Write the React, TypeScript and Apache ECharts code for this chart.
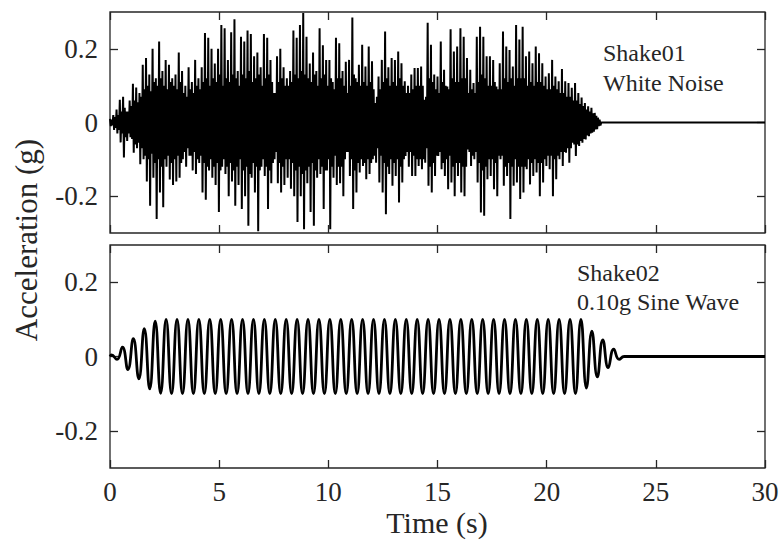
import React, { useEffect, useRef } from "react";
import * as echarts from "echarts";

// ---- tick labels ----
const xTicks = [0, 5, 10, 15, 20, 25, 30];
const yTicks = [-0.2, 0, 0.2];

// ---- Shake01: white noise ----
// For each step of noiseStep seconds: one positive and one negative spike (noisePeaks, pairs),
// followed by the half-height of the dense core band (noiseCore).
const noiseStep = 0.15;
const noisePeaks = [
  0.01, -0.01, 0.02, -0.02, 0.035, -0.03, 0.062, -0.054, 0.07, -0.095,
  0.03, -0.05, 0.06, -0.04, 0.105, -0.082, 0.095, -0.07, 0.08, -0.113,
  0.157, -0.1, 0.175, -0.16, 0.13, -0.226, 0.2, -0.15, 0.12, -0.262,
  0.22, -0.19, 0.14, -0.23, 0.17, -0.12, 0.157, -0.155, 0.12, -0.17,
  0.13, -0.16, 0.19, -0.15, 0.14, -0.1, 0.1, -0.12, 0.15, -0.09,
  0.11, -0.13, 0.17, -0.14, 0.12, -0.11, 0.15, -0.19, 0.243, -0.21,
  0.23, -0.13, 0.2, -0.15, 0.16, -0.17, 0.2, -0.243, 0.265, -0.12,
  0.256, -0.14, 0.17, -0.2, 0.245, -0.16, 0.28, -0.226, 0.14, -0.17,
  0.233, -0.235, 0.22, -0.2, 0.25, -0.28, 0.24, -0.15, 0.18, -0.19,
  0.19, -0.295, 0.15, -0.12, 0.24, -0.145, 0.23, -0.235, 0.17, -0.165,
  0.08, -0.1, 0.18, -0.165, 0.2, -0.19, 0.15, -0.17, 0.12, -0.15,
  0.14, -0.18, 0.25, -0.2, 0.23, -0.27, 0.265, -0.2, 0.297, -0.29,
  0.233, -0.165, 0.16, -0.243, 0.19, -0.28, 0.14, -0.15, 0.256, -0.14,
  0.21, -0.235, 0.17, -0.13, 0.17, -0.29, 0.11, -0.15, 0.23, -0.17,
  0.215, -0.165, 0.14, -0.2, 0.165, -0.08, 0.17, -0.145, 0.285, -0.235,
  0.12, -0.19, 0.157, -0.136, 0.211, -0.118, 0.152, -0.154, 0.206, -0.14,
  0.166, -0.1, 0.053, -0.109, 0.125, -0.163, 0.17, -0.19, 0.247, -0.249,
  0.15, -0.14, 0.175, -0.172, 0.17, -0.145, 0.193, -0.217, 0.161, -0.163,
  0.112, -0.091, 0.1, -0.12, 0.13, -0.145, 0.148, -0.145, 0.148, -0.118,
  0.152, -0.127, 0.062, -0.109, 0.271, -0.172, 0.211, -0.19, 0.13, -0.145,
  0.125, -0.091, 0.22, -0.127, 0.143, -0.145, 0.098, -0.181, 0.253, -0.163,
  0.193, -0.2, 0.206, -0.145, 0.256, -0.19, 0.233, -0.2, 0.175, -0.073,
  0.143, -0.118, 0.107, -0.1, 0.233, -0.163, 0.26, -0.244, 0.233, -0.253,
  0.18, -0.154, 0.18, -0.145, 0.17, -0.181, 0.098, -0.2, 0.161, -0.1,
  0.247, -0.172, 0.206, -0.145, 0.197, -0.262, 0.152, -0.172, 0.265, -0.163,
  0.225, -0.208, 0.26, -0.19, 0.18, -0.127, 0.193, -0.168, 0.161, -0.145,
  0.206, -0.136, 0.188, -0.2, 0.161, -0.163, 0.125, -0.118, 0.134, -0.127,
  0.17, -0.2, 0.125, -0.154, 0.112, -0.1, 0.145, -0.118, 0.112, -0.082,
  0.107, -0.109, 0.094, -0.055, 0.107, -0.091, 0.08, -0.064, 0.068, -0.055,
  0.053, -0.046, 0.044, -0.037, 0.04, -0.028, 0.026, -0.019, 0.013, -0.01,
];
const noiseCore = [
  0.008, 0.015, 0.02, 0.03, 0.04, 0.03, 0.045, 0.06, 0.055, 0.07,
  0.09, 0.1, 0.085, 0.11, 0.1, 0.12, 0.1, 0.09, 0.11, 0.1,
  0.09, 0.11, 0.08, 0.07, 0.09, 0.08, 0.1, 0.09, 0.11, 0.12,
  0.1, 0.12, 0.11, 0.13, 0.1, 0.12, 0.11, 0.13, 0.12, 0.1,
  0.13, 0.12, 0.14, 0.11, 0.12, 0.13, 0.1, 0.12, 0.13, 0.11,
  0.08, 0.11, 0.12, 0.1, 0.1, 0.11, 0.13, 0.12, 0.14, 0.13,
  0.12, 0.11, 0.13, 0.1, 0.12, 0.13, 0.1, 0.12, 0.09, 0.12,
  0.12, 0.1, 0.08, 0.1, 0.13, 0.11, 0.1, 0.11, 0.1, 0.11,
  0.09, 0.07, 0.09, 0.11, 0.12, 0.1, 0.11, 0.1, 0.12, 0.1,
  0.08, 0.08, 0.09, 0.1, 0.1, 0.1, 0.07, 0.12, 0.11, 0.09,
  0.08, 0.11, 0.1, 0.09, 0.12, 0.11, 0.11, 0.12, 0.12, 0.08,
  0.09, 0.08, 0.11, 0.13, 0.12, 0.1, 0.1, 0.11, 0.09, 0.09,
  0.12, 0.11, 0.12, 0.1, 0.12, 0.12, 0.12, 0.1, 0.11, 0.1,
  0.11, 0.11, 0.1, 0.09, 0.09, 0.1, 0.09, 0.08, 0.08, 0.07,
  0.07, 0.06, 0.06, 0.05, 0.045, 0.035, 0.03, 0.025, 0.018, 0.008,
];
const noiseTail = [
  [22.5, 0],
  [30, 0],
];

// ---- Shake02: 0.10 g sine wave, extremes every sineDt seconds from sineT0 ----
const sineHead = [[0, 0]];
const sineT0 = 0.07;
const sineDt = 0.25;
const sineAcc = [
  0.004, -0.008, 0.025, -0.035, 0.048, -0.06, 0.075, -0.087, 0.095, -0.099,
  0.1, -0.1, 0.1, -0.1, 0.1, -0.1, 0.1, -0.1, 0.1, -0.1,
  0.1, -0.1, 0.1, -0.1, 0.1, -0.1, 0.1, -0.1, 0.1, -0.1,
  0.1, -0.1, 0.1, -0.1, 0.1, -0.1, 0.1, -0.1, 0.1, -0.1,
  0.1, -0.1, 0.1, -0.1, 0.1, -0.1, 0.1, -0.1, 0.1, -0.1,
  0.1, -0.1, 0.1, -0.1, 0.1, -0.1, 0.1, -0.1, 0.1, -0.1,
  0.1, -0.1, 0.1, -0.1, 0.1, -0.1, 0.1, -0.1, 0.1, -0.1,
  0.1, -0.1, 0.1, -0.1, 0.1, -0.1, 0.1, -0.1, 0.1, -0.1,
  0.1, -0.1, 0.1, -0.1, 0.1, -0.1, 0.1, -0.085, 0.068, -0.055,
  0.045, -0.03, 0.02, -0.008,
];
const sineTail = [
  [23.55, 0],
  [30, 0],
];

const panelTexts = [
  ["Shake01", "White Noise"],
  ["Shake02", "0.10g Sine Wave"],
];
const yAxisTitle = "Acceleration (g)";
const xAxisTitle = "Time (s)";

const FONT = "Liberation Serif";
const INK = "#262626";

export default function App() {
  const ref = useRef<HTMLDivElement>(null);

  useEffect(() => {
    if (!ref.current) return;
    const chart = echarts.init(ref.current, undefined, { renderer: "svg" });

    const noiseData: number[][] = [];
    noiseCore.forEach((c, k) => {
      const t = k * noiseStep;
      const q = noiseStep / 4;
      noiseData.push([t, noisePeaks[2 * k]]);
      noiseData.push([t + q, noisePeaks[2 * k + 1]]);
      noiseData.push([t + 2 * q, c]);
      noiseData.push([t + 3 * q, -c]);
    });
    noiseTail.forEach((p) => noiseData.push(p));

    const sineData: number[][] = sineHead
      .concat(sineAcc.map((v, i) => [sineT0 + i * sineDt, v]))
      .concat(sineTail);

    const grids = [
      { top: 12, height: 221 },
      { top: 245, height: 223 },
    ];

    const tick = { inside: true, length: 8, lineStyle: { color: INK, width: 1.3 } };

    const xAxes: any[] = [];
    const yAxes: any[] = [];
    grids.forEach((_, g) => {
      ["bottom", "top"].forEach((pos) => {
        xAxes.push({
          type: "value",
          gridIndex: g,
          position: pos,
          min: xTicks[0],
          max: xTicks[xTicks.length - 1],
          interval: 5,
          axisLine: { show: false, onZero: false },
          axisTick: tick,
          splitLine: { show: false },
          axisLabel: {
            show: g === 1 && pos === "bottom",
            fontFamily: FONT,
            fontSize: 27,
            color: INK,
            margin: 10,
          },
        });
      });
      ["left", "right"].forEach((pos) => {
        yAxes.push({
          type: "value",
          gridIndex: g,
          position: pos,
          min: -0.3,
          max: 0.3,
          axisLine: { show: false, onZero: false },
          axisTick: { ...tick, customValues: yTicks },
          splitLine: { show: false },
          axisLabel: {
            show: pos === "left",
            customValues: yTicks,
            fontFamily: FONT,
            fontSize: 27,
            color: INK,
            margin: 12,
            formatter: (v: number) => (v === 0 ? "0" : String(v)),
          },
        });
      });
    });

    const txt = (text: string, x: number, y: number, size: number, align: string, extra: any = {}) => ({
      type: "text",
      x,
      y,
      ...extra,
      style: {
        text,
        fontFamily: FONT,
        fontSize: size,
        fill: INK,
        align,
        verticalAlign: "middle",
      },
    });

    const option: any = {
      animation: false,
      backgroundColor: "#ffffff",
      grid: grids.map((g) => ({
        left: 110,
        right: 18,
        top: g.top,
        height: g.height,
        show: true,
        borderColor: INK,
        borderWidth: 1.3,
        backgroundColor: "transparent",
      })),
      xAxis: xAxes,
      yAxis: yAxes,
      series: [
        {
          type: "line",
          xAxisIndex: 0,
          yAxisIndex: 0,
          data: noiseData,
          symbol: "none",
          showSymbol: false,
          silent: true,
          lineStyle: { color: "#000000", width: 2 },
          z: 1,
        },
        {
          type: "line",
          xAxisIndex: 2,
          yAxisIndex: 2,
          data: sineData,
          smooth: true,
          symbol: "none",
          showSymbol: false,
          silent: true,
          lineStyle: { color: "#000000", width: 2.8 },
          z: 1,
        },
      ],
      graphic: [
        txt(yAxisTitle, 26, 240, 31, "center", { rotation: Math.PI / 2 }),
        txt(xAxisTitle, 437, 522, 30, "center"),
        txt(panelTexts[0][0], 603, 53, 24, "left"),
        txt(panelTexts[0][1], 603, 83, 24, "left"),
        txt(panelTexts[1][0], 577, 273, 24, "left"),
        txt(panelTexts[1][1], 577, 302, 24, "left"),
      ],
    };

    chart.setOption(option);
    return () => chart.dispose();
  }, []);

  return (
    <div
      ref={ref}
      style={{ position: "fixed", left: 0, top: 0, width: 783, height: 545, background: "#fff" }}
    />
  );
}
